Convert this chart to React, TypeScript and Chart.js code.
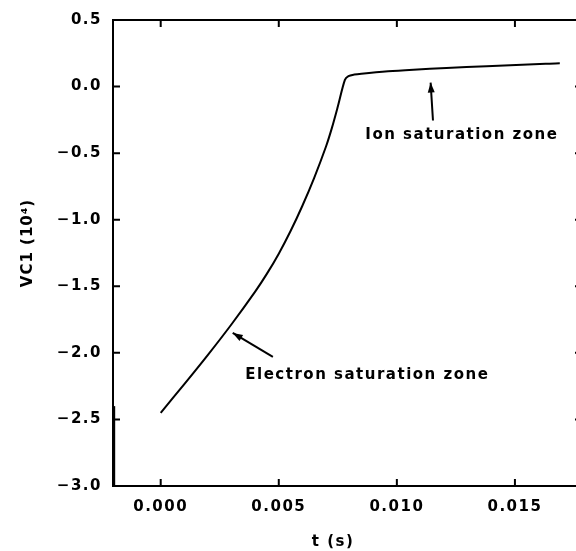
import React, { useEffect, useRef } from "react";
import { Chart, registerables } from "chart.js";

Chart.register(...registerables);

// Main probe trace
const tValues = [0, 0.001, 0.002, 0.003, 0.004, 0.0045, 0.005, 0.0055, 0.006, 0.0065, 0.007, 0.00725, 0.0075, 0.0078, 0.00795, 0.0082, 0.0085, 0.00963, 0.0107, 0.0121, 0.0138, 0.0163, 0.0169];
const vcValues = [-2.45, -2.235, -2.015, -1.785, -1.54, -1.405, -1.255, -1.085, -0.895, -0.685, -0.45, -0.31, -0.15, 0.05, 0.078, 0.09, 0.097, 0.115, 0.127, 0.14, 0.152, 0.172, 0.175];
// Initial transient along the left edge
const transientT = [-0.00198, -0.00198];
const transientV = [-3.0, -2.4];

const xTicks = [0, 0.005, 0.01, 0.015];
const yTicks = [0.5, 0, -0.5, -1, -1.5, -2, -2.5, -3];
const xLabel = "t (s)";
const yLabel = "VC1 (10\u2074)";

const notes = ["Ion saturation zone", "Electron saturation zone"];
const noteT = [0.012754, 0.00875];
const noteV = [-0.364, -2.17];
const arrowFromT = [0.01153, 0.00475];
const arrowFromV = [-0.255, -2.03];
const arrowToT = [0.01143, 0.00305];
const arrowToV = [0.03, -1.85];

const FONT = "'DejaVu Sans', sans-serif";
const SPACING = "1.5px";

const framePlugin = {
  id: "frame",
  beforeLayout(chart: any) {
    chart.ctx.letterSpacing = SPACING;
  },
  beforeDraw(chart: any) {
    chart.ctx.letterSpacing = SPACING;
  },
  afterDraw(chart: any) {
    const ctx = chart.ctx;
    const { left, right, top, bottom } = chart.chartArea;
    const xs = chart.scales.x;
    const ys = chart.scales.y;
    ctx.save();
    ctx.strokeStyle = "#000";
    ctx.fillStyle = "#000";
    ctx.lineWidth = 2;
    ctx.strokeRect(left, top, right - left, bottom - top);
    const tl = 7;
    ctx.beginPath();
    xTicks.forEach((v) => {
      const px = xs.getPixelForValue(v);
      ctx.moveTo(px, bottom);
      ctx.lineTo(px, bottom - tl);
      ctx.moveTo(px, top);
      ctx.lineTo(px, top + tl);
    });
    yTicks.forEach((v) => {
      const py = ys.getPixelForValue(v);
      ctx.moveTo(left, py);
      ctx.lineTo(left + tl, py);
      ctx.moveTo(right, py);
      ctx.lineTo(right - tl, py);
    });
    ctx.stroke();

    // axis titles
    ctx.letterSpacing = SPACING;
    ctx.font = `bold 15px ${FONT}`;
    ctx.textAlign = "center";
    ctx.textBaseline = "middle";
    ctx.fillText(xLabel, 333, 542);
    ctx.save();
    ctx.translate(28, 243);
    ctx.rotate(-Math.PI / 2);
    ctx.letterSpacing = "1px";
    ctx.fillText(yLabel, 0, 0);
    ctx.restore();

    // annotations
    ctx.font = `bold 15px ${FONT}`;
    ctx.letterSpacing = SPACING;
    notes.forEach((txt, i) => {
      ctx.fillText(txt, xs.getPixelForValue(noteT[i]), ys.getPixelForValue(noteV[i]));
      const x1 = xs.getPixelForValue(arrowFromT[i]);
      const y1 = ys.getPixelForValue(arrowFromV[i]);
      const x2 = xs.getPixelForValue(arrowToT[i]);
      const y2 = ys.getPixelForValue(arrowToV[i]);
      const ang = Math.atan2(y2 - y1, x2 - x1);
      ctx.lineWidth = 2;
      ctx.beginPath();
      ctx.moveTo(x1, y1);
      ctx.lineTo(x2, y2);
      ctx.stroke();
      const L = 10, W = 3.5;
      ctx.beginPath();
      ctx.moveTo(x2, y2);
      ctx.lineTo(x2 - L * Math.cos(ang) + W * Math.sin(ang), y2 - L * Math.sin(ang) - W * Math.cos(ang));
      ctx.lineTo(x2 - L * Math.cos(ang) - W * Math.sin(ang), y2 - L * Math.sin(ang) + W * Math.cos(ang));
      ctx.closePath();
      ctx.fill();
    });
    ctx.restore();
  },
};

export default function App() {
  const ref = useRef<HTMLCanvasElement | null>(null);
  useEffect(() => {
    if (!ref.current) return;
    const chart = new Chart(ref.current, {
      type: "scatter",
      data: {
        datasets: [
          {
            data: tValues.map((t, i) => ({ x: t, y: vcValues[i] })),
            showLine: true,
            borderColor: "#000",
            borderWidth: 2,
            pointRadius: 0,
            tension: 0.3,
          },
          {
            data: transientT.map((t, i) => ({ x: t, y: transientV[i] })),
            showLine: true,
            borderColor: "#000",
            borderWidth: 2.5,
            pointRadius: 0,
          },
        ],
      },
      options: {
        animation: false,
        responsive: false,
        devicePixelRatio: 1,
        layout: { padding: { top: 19, right: 8, left: 0, bottom: 0 } },
        plugins: { legend: { display: false }, tooltip: { enabled: false } },
        scales: {
          x: {
            type: "linear",
            min: -0.00202,
            max: 0.01784,
            grid: { display: false, drawTicks: false },
            border: { display: false },
            afterBuildTicks: (s: any) => {
              s.ticks = xTicks.map((v) => ({ value: v }));
            },
            afterFit: (s: any) => {
              s.height = 65;
            },
            ticks: {
              autoSkip: false,
              maxRotation: 0,
              padding: 12,
              color: "#000",
              font: { family: FONT, size: 15, weight: "bold" },
              callback: (v: any) => Number(v).toFixed(3),
            },
          },
          y: {
            type: "linear",
            min: -3,
            max: 0.5,
            grid: { display: false, drawTicks: false },
            border: { display: false },
            afterBuildTicks: (s: any) => {
              s.ticks = yTicks.map((v) => ({ value: v }));
            },
            afterFit: (s: any) => {
              s.width = 113;
            },
            ticks: {
              autoSkip: false,
              padding: 11,
              color: "#000",
              font: { family: FONT, size: 15, weight: "bold" },
              callback: (v: any) => {
                const n = Number(v);
                return (n < -1e-9 ? "\u2212" : "") + Math.abs(n).toFixed(1);
              },
            },
          },
        },
      },
      plugins: [framePlugin],
    } as any);
    return () => chart.destroy();
  }, []);
  return (
    <div style={{ position: "fixed", left: 0, top: 0, width: 576, height: 551, overflow: "hidden", background: "#fff" }}>
      <canvas ref={ref} width={590} height={551} style={{ display: "block", width: 590, height: 551 }} />
    </div>
  );
}
